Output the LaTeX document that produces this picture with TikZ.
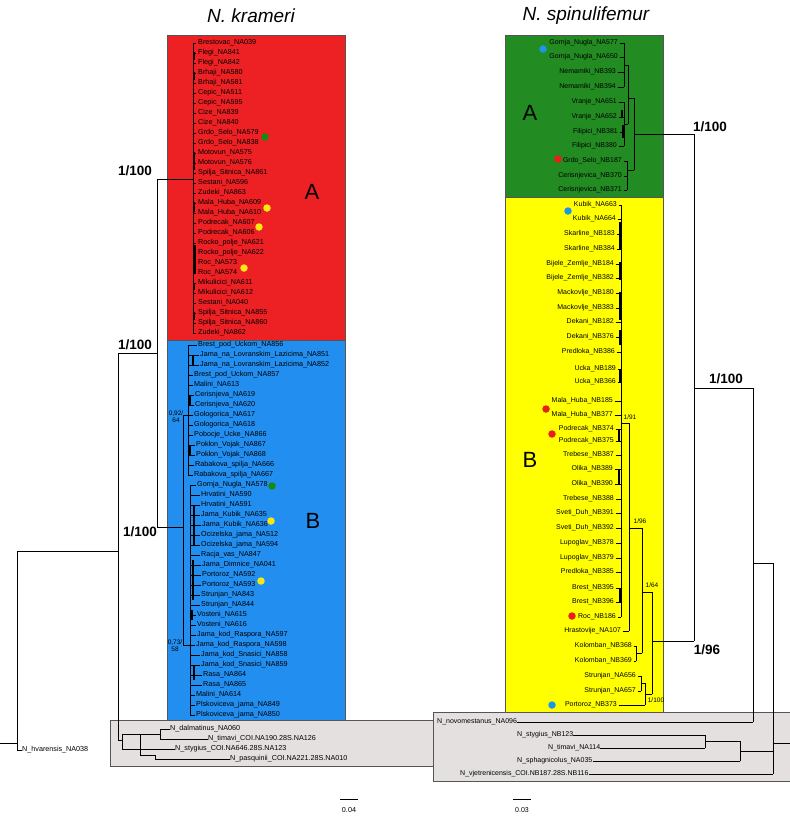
\documentclass[tikz,border=0pt]{standalone}
\usepackage{fontspec}
\setmainfont{Liberation Sans}
\definecolor{cred}{RGB}{237,32,36}
\definecolor{cblue}{RGB}{33,142,240}
\definecolor{cgreen}{RGB}{34,139,34}
\definecolor{cyellow}{RGB}{255,255,0}
\definecolor{cgray}{RGB}{228,224,224}
\definecolor{cframe}{RGB}{85,85,85}
\definecolor{dgreen}{RGB}{20,140,20}
\definecolor{dyellow}{RGB}{250,232,20}
\definecolor{dblue}{RGB}{30,150,230}
\definecolor{dred}{RGB}{235,30,25}
\begin{document}
\begin{tikzpicture}[x=1pt,y=-1pt,
  tax/.style={font=\fontsize{7.2}{8}\selectfont,inner sep=0pt},
  taxr/.style={font=\fontsize{7}{8}\selectfont,inner sep=0pt},
  br/.style={line width=0.6pt},
  thk/.style={line width=1.6pt},
  supbig/.style={font=\fontsize{13.5}{14}\selectfont\bfseries,inner sep=0pt},
  supsmall/.style={font=\fontsize{6.5}{7}\selectfont,inner sep=0pt,align=center},
  cladeletter/.style={font=\fontsize{22}{24}\selectfont,inner sep=0pt},
  ttl/.style={font=\fontsize{19}{22}\selectfont\itshape,inner sep=0pt},
  cbox/.style={draw=cframe,line width=0.8pt},
  dot/.style={circle,inner sep=0pt,minimum size=7.5pt}
]
\useasboundingbox (0,0) rectangle (790,817);

% titles
\node[ttl] (t1) at (251,16) {N. krameri};
\node[ttl] (t2) at (586,16) {N. spinulifemur};

% ================= LEFT TREE =================
\fill[cred,cbox] (167,35) rectangle (345,340);
\fill[cblue,cbox] (167,340) rectangle (345,720);
\fill[cgray,cbox] (110,720) rectangle (455,766);

\node[cladeletter] (lA) at (312,192) {A};
\node[cladeletter] (lB) at (313,521) {B};

% red clade
\foreach \nm [count=\i] in {Brestovac\_NA039,Flegi\_NA841,Flegi\_NA842,Brhaji\_NA580,Brhaji\_NA581,Cepic\_NA511,Cepic\_NA595,Cize\_NA839,Cize\_NA840,Grdo\_Selo\_NA579,Grdo\_Selo\_NA838,Motovun\_NA575,Motovun\_NA576,Spilja\_Sitnica\_NA861,Sestani\_NA596,Zudeki\_NA863,Mala\_Huba\_NA609,Mala\_Huba\_NA610,Podrecak\_NA607,Podrecak\_NA606,Rocko\_polje\_NA621,Rocko\_polje\_NA622,Roc\_NA573,Roc\_NA574,Mikulicici\_NA611,Mikulicici\_NA612,Sestani\_NA040,Spilja\_Sitnica\_NA855,Spilja\_Sitnica\_NA860,Zudeki\_NA862}{
  \pgfmathsetmacro\yy{43+10*(\i-1)}
  \node[tax,anchor=west] (r\i) at (198,\yy) {\nm};
  \draw[br] (193,\yy) -- (196,\yy);
}
\draw[br] (193,43) -- (193,333);
\draw[thk] (194,52) -- (194,60);
\draw[thk] (194,72) -- (194,80);
\draw[thk] (194,152) -- (194,170);
\draw[thk] (194,202) -- (194,212);
\draw[thk] (195,245) -- (195,273);
\draw[thk] (194,283) -- (194,290);
\draw[thk] (194,312) -- (194,320);

% blue clade
\foreach \nm/\lx [count=\i] in {Brest\_pod\_Uckom\_NA856/198,Jama\_na\_Lovranskim\_Lazicima\_NA851/200,Jama\_na\_Lovranskim\_Lazicima\_NA852/200,Brest\_pod\_Uckom\_NA857/194,Malini\_NA613/194,Cerisnjeva\_NA619/195,Cerisnjeva\_NA620/195,Gologorica\_NA617/194,Gologorica\_NA618/194,Pobocje\_Ucke\_NA866/194,Poklon\_Vojak\_NA867/196,Poklon\_Vojak\_NA868/196,Rabakova\_spilja\_NA666/195,Rabakova\_spilja\_NA667/194,Gornja\_Nugla\_NA578/197,Hrvatini\_NA590/201,Hrvatini\_NA591/201,Jama\_Kubik\_NA635/201,Jama\_Kubik\_NA636/202,Ocizelska\_jama\_NA512/201,Ocizelska\_jama\_NA594/201,Racja\_vas\_NA847/201,Jama\_Dimnice\_NA041/202,Portoroz\_NA592/202,Portoroz\_NA593/202,Strunjan\_NA843/201,Strunjan\_NA844/201,Vosteni\_NA615/197,Vosteni\_NA616/197,Jama\_kod\_Raspora\_NA597/197,Jama\_kod\_Raspora\_NA598/196,Jama\_kod\_Snasici\_NA858/201,Jama\_kod\_Snasici\_NA859/201,Rasa\_NA864/203,Rasa\_NA865/203,Malini\_NA614/196,Plskoviceva\_jama\_NA849/196,Plskoviceva\_jama\_NA850/196}{
  \pgfmathsetmacro\yy{345+10*(\i-1)}
  \pgfmathsetmacro\bx{\i<15 ? 188 : 190}
  \node[tax,anchor=west] (b\i) at (\lx,\yy) {\nm};
  \draw[br] (\bx,\yy) -- ({\lx-1.5},\yy);
}
\draw[br] (188,345) -- (188,475);
\draw[br] (190,485) -- (190,715);
\draw[thk] (193,355) -- (193,365);
\draw[thk] (190,395) -- (190,405);
\draw[thk] (190,445) -- (190,455);
\draw[thk] (194,505) -- (194,545);
\draw[thk] (193,560) -- (193,600);
\draw[thk] (192,610) -- (192,620);
\draw[thk] (194,665) -- (194,680);
\draw[br] (183,415) -- (183,645);
\draw[br] (183,415) -- (188,415);
\draw[br] (183,645) -- (190,645);
\node[supsmall] (s092) at (176,417) {0,92/\\64};
\node[supsmall] (s073) at (175,646) {0,73/\\58};

% backbone of N. krameri
\draw[br] (157,179) -- (193,179);
\draw[br] (157,179) -- (157,527) -- (183,527);
\draw[br] (118,353) -- (157,353);
\draw[br] (118,353) -- (118,740);
\draw[br] (17,551) -- (118,551);
\draw[br] (17,551) -- (17,750);
\draw[br] (0,743) -- (17,743);
\node[supbig] (l1) at (135,171) {1/100};
\node[supbig] (l2) at (135,345) {1/100};
\node[supbig] (l3) at (140,532) {1/100};

% left outgroup
\node[tax,anchor=west] (o1) at (170,729) {N\_dalmatinus\_NA060};
\node[tax,anchor=west] (o2) at (208,739) {N\_timavi\_COI.NA190.28S.NA126};
\node[tax,anchor=west] (o3) at (175,749) {N\_stygius\_COI.NA646.28S.NA123};
\node[tax,anchor=west] (o4) at (230,759) {N\_pasquinii\_COI.NA221.28S.NA010};
\node[tax,anchor=west] (o5) at (22,750) {N\_hvarensis\_NA038};
\node[font=\fontsize{8}{9}\selectfont,anchor=west,inner sep=0pt] (og) at (460,756) {Outgroup};
\draw[br] (118,740) -- (122,740);
\draw[br] (122,734) -- (122,749);
\draw[br] (122,749) -- (o3.west);
\draw[br] (122,734) -- (140,734);
\draw[br] (140,734) -- (140,755);
\draw[br] (140,734) -- (160,734);
\draw[br] (160,729) -- (160,739);
\draw[br] (160,729) -- (o1.west);
\draw[br] (160,739) -- (o2.west);
\draw[br] (140,755) -- (155,755) -- (155,759) -- (o4.west);
\draw[br] (17,750) -- (o5.west);

% scale
\draw[br] (340,799) -- (358,799);
\node[tax] (sc1) at (349,810) {0.04};

% ================= RIGHT TREE =================
\fill[cgreen,cbox] (505,35) rectangle (663,197);
\fill[cyellow,cbox] (505,197) rectangle (663,712);
\fill[cgray,cbox] (433,712) rectangle (790,781);

\node[cladeletter] (rA) at (530,113) {A};
\node[cladeletter] (rB) at (530,460) {B};

\foreach \nm/\yy/\ex/\bx [count=\i] in {Gornja\_Nugla\_NA577/43/618/624,Gornja\_Nugla\_NA650/57/618/624,Nemamiki\_NB393/72/616/624,Nemamiki\_NB394/87/616/624,Vranje\_NA651/102/617/624,Vranje\_NA652/117/617/624,Filipici\_NB381/132/618/624,Filipici\_NB380/146/617/624,Grdo\_Selo\_NB187/161/622/627,Cerisnjevica\_NB370/176/622/627,Cerisnjevica\_NB371/190/622/627}{
  \node[taxr,anchor=east] (g\i) at (\ex,\yy) {\nm};
  \draw[br] ({\ex+1.5},\yy) -- (\bx,\yy);
}
\draw[br] (624,43) -- (624,87);
\draw[br] (624,102) -- (624,146);
\draw[thk] (622,110) -- (622,118);
\draw[thk] (623,125) -- (623,138);
\draw[br] (624,65) -- (628,65);
\draw[br] (624,124) -- (628,124);
\draw[br] (628,65) -- (628,124);
\draw[br] (628,98) -- (634,98);
\draw[br] (627,161) -- (627,190);
\draw[br] (627,170) -- (634,170);
\draw[br] (634,98) -- (634,170);
\draw[br] (634,134) -- (694,134);

\foreach \nm/\yy/\ex/\bx [count=\i] in {Kubik\_NA663/205/617/621,Kubik\_NA664/219/616/621,Skarline\_NB183/234/615/621,Skarline\_NB384/249/615/621,Bijele\_Zemlje\_NB184/264/614/621,Bijele\_Zemlje\_NB382/278/614/621,Mackovlje\_NB180/293/614/621,Mackovlje\_NB383/308/614/621,Dekani\_NB182/322/614/621,Dekani\_NB376/337/614/621,Predloka\_NB386/352/615/621,Ucka\_NB189/369/616/621,Ucka\_NB366/382/616/621,Mala\_Huba\_NB185/401/613/621,Mala\_Huba\_NB377/415/613/621,Podrecak\_NB374/429/614/621,Podrecak\_NB375/441/614/621,Trebese\_NB387/455/614/621,Olika\_NB389/469/613/621,Olika\_NB390/484/613/621,Trebese\_NB388/499/614/621,Sveti\_Duh\_NB391/513/614/621,Sveti\_Duh\_NB392/528/614/621,Lupoglav\_NB378/543/614/621,Lupoglav\_NB379/558/614/621,Predloka\_NB385/572/614/621,Brest\_NB395/588/614/621,Brest\_NB396/602/614/621,Roc\_NB186/617/616/621,Hrastovije\_NA107/631/621/629,Kolomban\_NB368/646/632/636,Kolomban\_NB369/661/632/636,Strunjan\_NA656/676/636/641,Strunjan\_NA657/691/636/641,Portoroz\_NB373/705/617/645}{
  \node[taxr,anchor=east] (y\i) at (\ex,\yy) {\nm};
  \draw[br] ({\ex+1.5},\yy) -- (\bx,\yy);
}
\draw[br] (621,205) -- (621,617);
\draw[thk] (620,222) -- (620,250);
\draw[thk] (620,262) -- (620,280);
\draw[thk] (620,292) -- (620,320);
\draw[thk] (620,330) -- (620,345);
\draw[thk] (620,370) -- (620,382);
\draw[thk] (619,429) -- (619,441);
\draw[thk] (619,470) -- (619,484);
\draw[thk] (620,588) -- (620,602);
\draw[br] (621,423) -- (629,423);
\draw[br] (629,423) -- (629,631);
\draw[br] (629,528) -- (642,528);
\draw[br] (642,528) -- (642,653);
\draw[br] (636,646) -- (636,661);
\draw[br] (636,653) -- (642,653);
\draw[br] (642,592) -- (652,592);
\draw[br] (652,592) -- (652,694);
\draw[br] (641,676) -- (641,691);
\draw[br] (641,683) -- (645,683);
\draw[br] (645,683) -- (645,705);
\draw[br] (645,694) -- (652,694);
\draw[br] (652,641) -- (694,641);
\node[supsmall] (s91) at (630,417) {1/91};
\node[supsmall] (s96) at (640,521) {1/96};
\node[supsmall] (s64) at (652,585) {1/64};
\node[supsmall] (s100) at (656,700) {1/100};

% backbone N. spinulifemur
\draw[br] (694,134) -- (694,641);
\draw[br] (694,388) -- (753,388);
\draw[br] (753,388) -- (753,722);
\draw[br] (753,563) -- (773,563);
\draw[br] (773,563) -- (773,774);
\draw[br] (773,743) -- (790,743);
\node[supbig] (r1) at (710,127) {1/100};
\node[supbig] (r2) at (726,379) {1/100};
\node[supbig] (r3) at (707,650) {1/96};

% right outgroup
\node[taxr,anchor=west] (p1) at (437,722) {N\_novomestanus\_NA096};
\node[taxr,anchor=west] (p2) at (517,735) {N\_stygius\_NB123};
\node[taxr,anchor=west] (p3) at (548,748) {N\_timavi\_NA114};
\node[taxr,anchor=west] (p4) at (517,761) {N\_sphagnicolus\_NA035};
\node[taxr,anchor=west] (p5) at (460,774) {N\_vjetrenicensis\_COI.NB187.28S.NB116};
\draw[br] (p1.east) -- (753,722);
\draw[br] (p2.east) -- (705,735);
\draw[br] (p3.east) -- (705,748);
\draw[br] (705,735) -- (705,748);
\draw[br] (705,741) -- (740,741);
\draw[br] (p4.east) -- (740,761);
\draw[br] (740,741) -- (740,761);
\draw[br] (740,751) -- (773,751);
\draw[br] (p5.east) -- (773,774);

\draw[br] (513,799) -- (531,799);
\node[taxr] (sc2) at (522,810) {0.03};

% dots
\node[dot,fill=dgreen] (d1) at (265,137) {};
\node[dot,fill=dyellow] (d2) at (267,208) {};
\node[dot,fill=dyellow] (d3) at (259,227) {};
\node[dot,fill=dyellow] (d4) at (244,268) {};
\node[dot,fill=dgreen] (d5) at (272,486) {};
\node[dot,fill=dyellow] (d6) at (271,521) {};
\node[dot,fill=dyellow] (d7) at (261,581) {};
\node[dot,fill=dblue] (d8) at (543,49) {};
\node[dot,fill=dred] (d9) at (558,159) {};
\node[dot,fill=dblue] (d10) at (568,211) {};
\node[dot,fill=dred] (d11) at (546,409) {};
\node[dot,fill=dred] (d12) at (552,434) {};
\node[dot,fill=dred] (d13) at (572,616) {};
\node[dot,fill=dblue] (d14) at (552,705) {};
\end{tikzpicture}
\end{document}
